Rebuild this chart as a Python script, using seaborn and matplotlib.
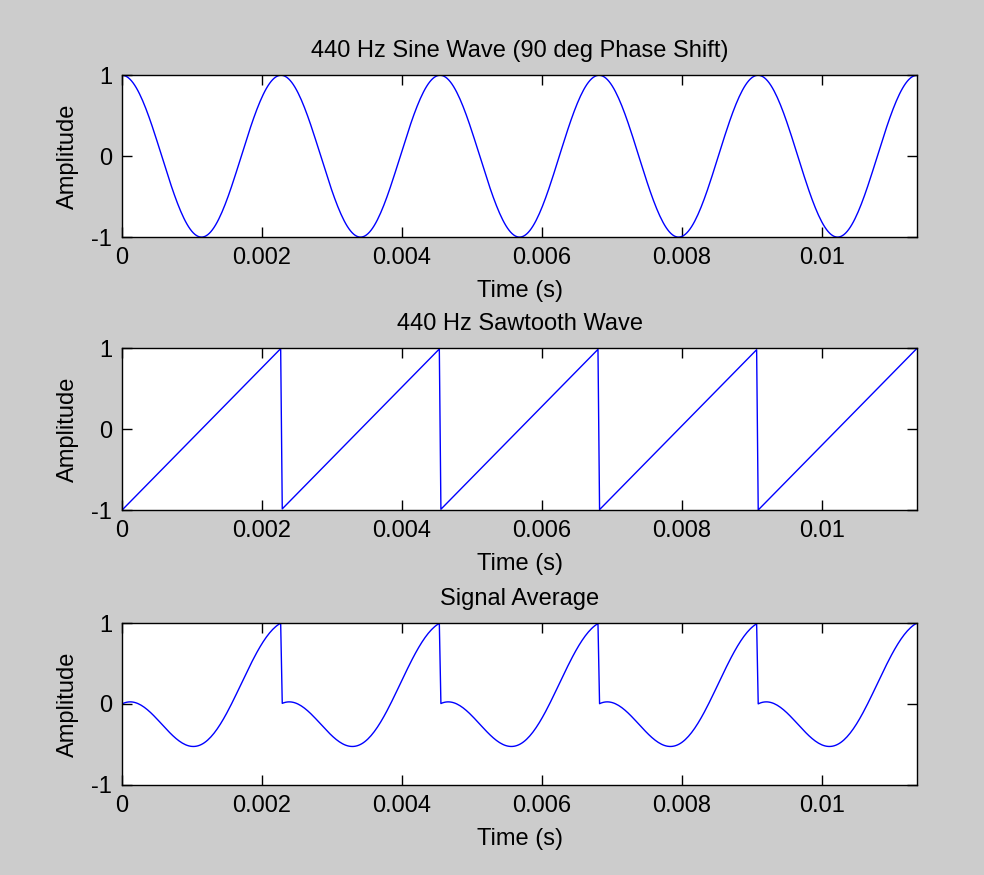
import numpy as np
import pandas as pd
import matplotlib
matplotlib.use("Agg")
import matplotlib.pyplot as plt
import seaborn as sns

# Signal parameters
freq = 440            # Hz
phase_deg = 90        # phase shift of the sine
n_periods = 5
fs = 44100            # sample rate

t = np.arange(0, n_periods / freq, 1 / fs)
sine = np.sin(2 * np.pi * freq * t + np.deg2rad(phase_deg))
saw = 2 * np.mod(freq * t, 1.0) - 1
avg = (sine + saw) / 2

titles = ["440 Hz Sine Wave (90 deg Phase Shift)", "440 Hz Sawtooth Wave", "Signal Average"]
xticks = [0, 0.002, 0.004, 0.006, 0.008, 0.01]
xticklabels = ["0", "0.002", "0.004", "0.006", "0.008", "0.01"]
yticks = [-1, 0, 1]
yticklabels = ["-1", "0", "1"]

sns.set_style("ticks")
plt.rcParams["font.family"] = ["Liberation Sans", "DejaVu Sans"]
plt.rcParams["axes.unicode_minus"] = False
plt.rcParams["text.color"] = "black"
plt.rcParams["axes.labelcolor"] = "black"

fig = plt.figure(figsize=(9.84, 8.75), dpi=100, facecolor="#cccccc")
bottoms = [0.729, 0.417, 0.103]

for i, y in enumerate([sine, saw, avg]):
    ax = fig.add_axes([0.124, bottoms[i], 0.808, 0.185])
    df = pd.DataFrame({"t": t, "y": y})
    sns.lineplot(data=df, x="t", y="y", ax=ax, color="blue", linewidth=1, estimator=None)
    ax.set_facecolor("white")
    ax.set_xlim(0, n_periods / freq)
    ax.set_ylim(-1, 1)
    ax.set_xticks(xticks)
    ax.set_xticklabels(xticklabels)
    ax.set_yticks(yticks)
    ax.set_yticklabels(yticklabels)
    ax.tick_params(direction="in", top=True, right=True, labelsize=17, length=7, width=1, pad=7, colors="black")
    for s in ax.spines.values():
        s.set_visible(True)
        s.set_linewidth(1)
        s.set_color("black")
    ax.set_title(titles[i], fontsize=17, pad=13)
    ax.set_xlabel("Time (s)", fontsize=17, labelpad=8)
    ax.set_ylabel("Amplitude", fontsize=17, labelpad=9)

plt.savefig("out.png", dpi=100, facecolor=fig.get_facecolor())
